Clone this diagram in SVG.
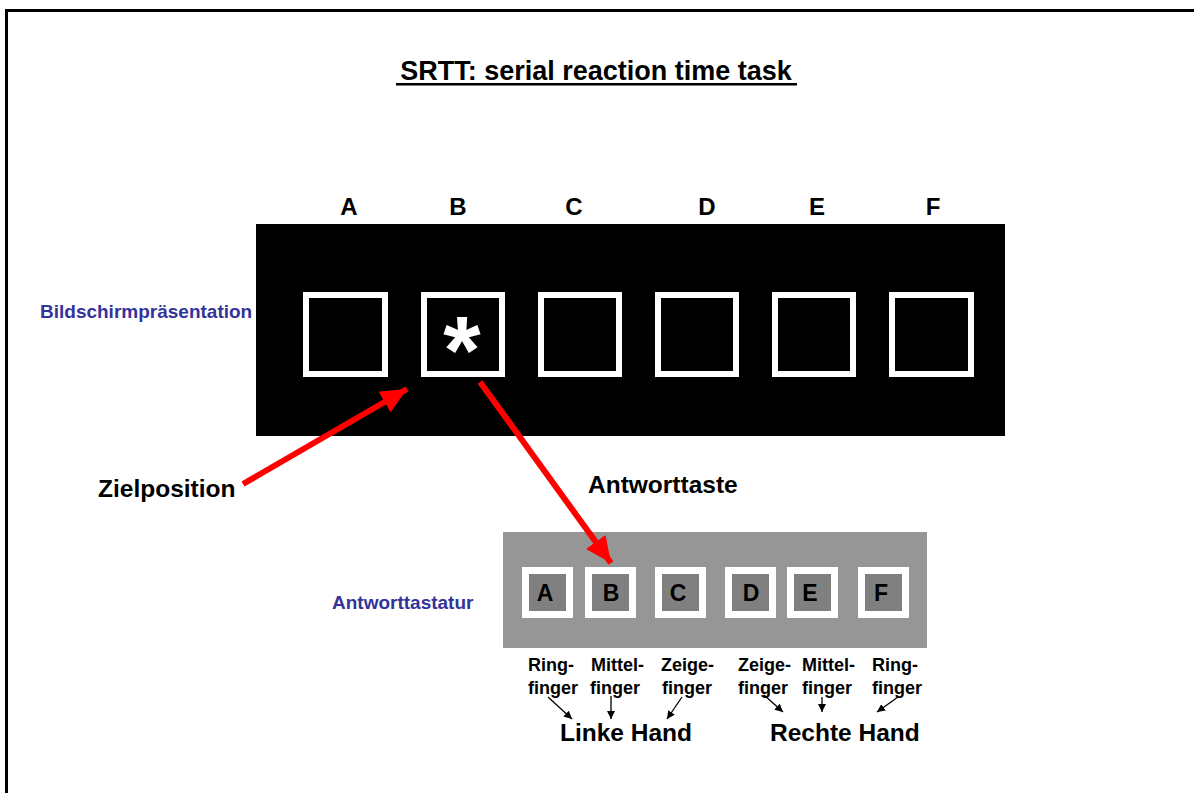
<svg xmlns="http://www.w3.org/2000/svg" width="1194" height="793" viewBox="0 0 1194 793">
  <style>
    text { font-family: "Liberation Sans", Arial, sans-serif; font-weight: bold; }
    .title { font-size: 27px; fill: #000; }
    .col { font-size: 24px; fill: #000; text-anchor: middle; }
    .side { font-size: 19px; fill: #333399; }
    .label { font-size: 24.5px; fill: #000; }
    .key { font-size: 23px; fill: #000; text-anchor: middle; }
    .finger { font-size: 18px; fill: #000; }
    .hand { font-size: 24.5px; fill: #000; }
    .slot { fill: none; stroke: #fff; stroke-width: 6; }
    .keycap { fill: #808080; stroke: #fff; stroke-width: 7; }
    .red { stroke: #ff0000; stroke-width: 6; fill: none; }
    .thin { stroke: #000; stroke-width: 1.3; fill: none; }
  </style>
  <defs>
    <marker id="redHead" markerUnits="userSpaceOnUse" markerWidth="28" markerHeight="24" refX="26" refY="12" orient="auto">
      <path d="M0,0 L26,12 L0,24 Z" fill="#ff0000"/>
    </marker>
    <marker id="blackHead" markerUnits="userSpaceOnUse" markerWidth="9" markerHeight="8" refX="8" refY="4" orient="auto">
      <path d="M0,0 L8,4 L0,8 Z" fill="#000"/>
    </marker>
  </defs>

  <rect width="1194" height="793" fill="#fff"/>
  <!-- page frame -->
  <rect x="6.5" y="10.5" width="1200" height="800" fill="none" stroke="#000" stroke-width="3"/>

  <g id="title">
    <text class="title" x="596" y="80" text-anchor="middle">SRTT: serial reaction time task</text>
    <rect x="396" y="83" width="401" height="2.5" fill="#000"/>
  </g>

  <g id="column-labels">
    <text class="col" x="349" y="215">A</text>
    <text class="col" x="458" y="215">B</text>
    <text class="col" x="574" y="215">C</text>
    <text class="col" x="707" y="215">D</text>
    <text class="col" x="817" y="215">E</text>
    <text class="col" x="933" y="215">F</text>
  </g>

  <g id="screen">
    <rect x="256" y="224" width="749" height="212" fill="#000"/>
    <rect class="slot" x="306" y="295" width="79" height="79"/>
    <rect class="slot" x="424" y="295" width="78" height="79"/>
    <rect class="slot" x="541" y="295" width="78" height="79"/>
    <rect class="slot" x="658" y="295" width="78" height="79"/>
    <rect class="slot" x="775" y="295" width="78" height="79"/>
    <rect class="slot" x="892" y="295" width="79" height="79"/>
    <text x="462" y="383" font-size="96" fill="#fff" text-anchor="middle">*</text>
  </g>

  <g id="screen-label">
    <text class="side" x="40" y="318">Bildschirmpräsentation</text>
  </g>

  <g id="target-label">
    <text class="label" x="98" y="497">Zielposition</text>
  </g>

  <g id="response-label">
    <text class="label" x="588" y="493">Antworttaste</text>
  </g>

  <g id="keyboard-label">
    <text class="side" x="332" y="609">Antworttastatur</text>
  </g>

  <g id="keyboard">
    <rect x="503" y="532" width="424" height="116" fill="#969696"/>
    <rect class="keycap" x="525.5" y="570.5" width="44" height="44"/>
    <rect class="keycap" x="588.5" y="570.5" width="44" height="44"/>
    <rect class="keycap" x="658.5" y="570.5" width="44" height="44"/>
    <rect class="keycap" x="728.5" y="570.5" width="44" height="44"/>
    <rect class="keycap" x="790.5" y="570.5" width="44" height="44"/>
    <rect class="keycap" x="861.5" y="570.5" width="44" height="44"/>
    <text class="key" x="545" y="601">A</text>
    <text class="key" x="611" y="601">B</text>
    <text class="key" x="678" y="601">C</text>
    <text class="key" x="751" y="601">D</text>
    <text class="key" x="810" y="601">E</text>
    <text class="key" x="881" y="601">F</text>
  </g>

  <g id="finger-labels">
    <text class="finger" x="528" y="671">Ring-</text>
    <text class="finger" x="528" y="694">finger</text>
    <text class="finger" x="591" y="671">Mittel-</text>
    <text class="finger" x="590" y="694">finger</text>
    <text class="finger" x="661" y="671">Zeige-</text>
    <text class="finger" x="662" y="694">finger</text>
    <text class="finger" x="738" y="671">Zeige-</text>
    <text class="finger" x="738" y="694">finger</text>
    <text class="finger" x="802" y="671">Mittel-</text>
    <text class="finger" x="802" y="694">finger</text>
    <text class="finger" x="872" y="671">Ring-</text>
    <text class="finger" x="872" y="694">finger</text>
  </g>

  <g id="left-hand">
    <text class="hand" x="560" y="741">Linke Hand</text>
  </g>
  <g id="right-hand">
    <text class="hand" x="770" y="741">Rechte Hand</text>
  </g>

  <g id="connectors">
    <line class="red" x1="243" y1="484" x2="407" y2="389" marker-end="url(#redHead)"/>
    <line class="red" x1="480" y1="382" x2="611" y2="563" marker-end="url(#redHead)"/>
    <line class="thin" x1="548" y1="697" x2="572" y2="719" marker-end="url(#blackHead)"/>
    <line class="thin" x1="611" y1="696" x2="611" y2="719" marker-end="url(#blackHead)"/>
    <line class="thin" x1="682" y1="697" x2="667" y2="719" marker-end="url(#blackHead)"/>
    <line class="thin" x1="764" y1="695" x2="783" y2="712" marker-end="url(#blackHead)"/>
    <line class="thin" x1="822" y1="697" x2="822" y2="712" marker-end="url(#blackHead)"/>
    <line class="thin" x1="898" y1="697" x2="877" y2="712" marker-end="url(#blackHead)"/>
  </g>
</svg>
